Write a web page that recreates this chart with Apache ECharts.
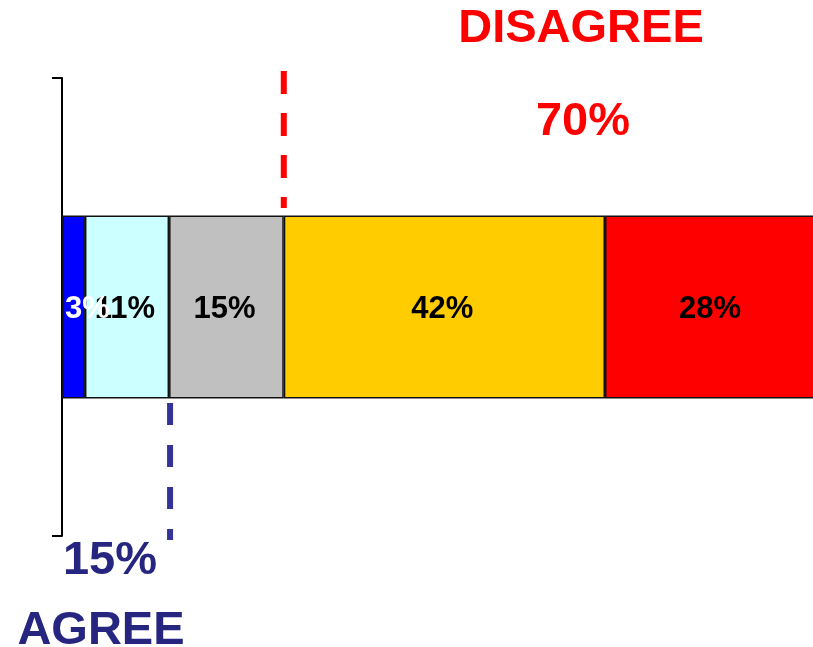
<!DOCTYPE html>
<html>
<head>
<meta charset="utf-8">
<script src="https://cdn.jsdelivr.net/npm/echarts@6/dist/echarts.min.js"></script>
<style>
  html, body { margin: 0; padding: 0; background: #fff; }
  #chart { width: 813px; height: 647px; }
</style>
</head>
<body>
<div id="chart"></div>
<script>
// one stacked bar, five answer levels
const categories = ['Response'];
const segmentNames = ['Strongly agree', 'Agree', 'Neutral', 'Disagree', 'Strongly disagree'];
const segmentValues = [3, 11, 15, 42, 28];
const segmentColors = ['#0000ff', '#ccffff', '#c0c0c0', '#ffcc00', '#ff0000'];
const labelColors = ['#fff', '#000', '#000', '#000', '#000'];

// summary call-outs
const agreeLabel = ['15%', 'AGREE'];
const disagreeLabel = ['DISAGREE', '70%'];

const FONT = '"Liberation Sans", Arial, sans-serif';
const chart = echarts.init(document.getElementById('chart'));

const series = segmentValues.map((v, i) => ({
  name: segmentNames[i],
  type: 'bar',
  stack: 'total',
  barWidth: '40%',
  clip: false,
  z: i === 0 ? 3 : 2,
  data: [v],
  itemStyle: {color: segmentColors[i], borderColor: '#111', borderWidth: 1.5},
  label: {
    show: true,
    position: 'inside',
    formatter: '{c}%',
    color: labelColors[i],
    fontFamily: FONT,
    fontWeight: 'bold',
    fontSize: 31,
    offset: i === 0 ? [14, 2] : [-2, 2]
  }
}));

// the last segment runs off the right edge of the picture
chart.setOption({
  animation: false,
  grid: {left: 62, top: 78, right: 0, height: 458},
  xAxis: {type: 'value', min: 0, max: 98.2, show: false},
  yAxis: {
    type: 'category',
    data: categories,
    axisLine: {lineStyle: {color: '#000', width: 2}},
    axisTick: {show: true, length: 10, lineStyle: {color: '#000', width: 2}},
    axisLabel: {show: false}
  },
  series: series
});

// dashed split lines at the agree / disagree boundaries
const agreeEdge = segmentValues[0] + segmentValues[1];
const disagreeEdge = agreeEdge + segmentValues[2];
const xAgree = chart.convertToPixel({gridIndex: 0}, [agreeEdge, 0])[0] + 1;
const xDisagree = chart.convertToPixel({gridIndex: 0}, [disagreeEdge, 0])[0];

const bigText = (text, x, y, color) => ({
  type: 'text',
  x: x,
  y: y,
  style: {
    text: text,
    fill: color,
    font: 'bold 47px ' + FONT,
    align: 'center',
    verticalAlign: 'middle'
  }
});

chart.setOption({
  graphic: [
    {
      type: 'line',
      shape: {x1: xDisagree, y1: 71, x2: xDisagree, y2: 208},
      style: {stroke: '#ff0000', lineWidth: 6, lineDash: [23, 19]}
    },
    {
      type: 'line',
      shape: {x1: xAgree, y1: 403, x2: xAgree, y2: 540},
      style: {stroke: '#333399', lineWidth: 6, lineDash: [22, 20]}
    },
    bigText(disagreeLabel[0], 581, 29, '#ff0000'),
    bigText(disagreeLabel[1], 583, 122, '#ff0000'),
    bigText(agreeLabel[0], 110, 561, '#262680'),
    bigText(agreeLabel[1], 101, 631, '#262680')
  ]
});
</script>
</body>
</html>
